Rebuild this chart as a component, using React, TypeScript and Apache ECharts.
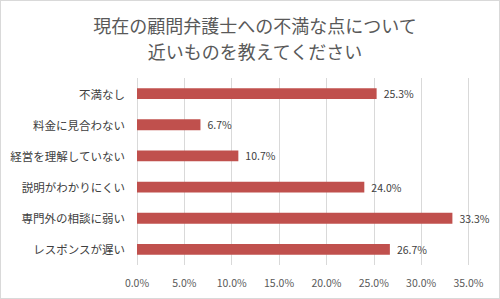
import React, { useEffect, useRef } from "react";
import * as echarts from "echarts";

const titleLines = ["現在の顧問弁護士への不満な点について", "近いものを教えてください"];
const categories = [
  "不満なし",
  "料金に見合わない",
  "経営を理解していない",
  "説明がわかりにくい",
  "専門外の相談に弱い",
  "レスポンスが遅い",
];
const values = [25.3, 6.7, 10.7, 24.0, 33.3, 26.7];
const axisMax = 35;
const axisInterval = 5;

const FONT = "'Noto Sans CJK JP', 'Noto Sans', sans-serif";

export default function App() {
  const ref = useRef<HTMLDivElement>(null);
  useEffect(() => {
    if (!ref.current) return;
    const chart = echarts.init(ref.current, null, { renderer: "svg" });
    const titleTops = [8.5, 34.5];
    chart.setOption({
      animation: false,
      backgroundColor: "#ffffff",
      textStyle: { fontFamily: FONT },
      title: titleLines.map((t, i) => ({
        text: t,
        left: 249,
        top: titleTops[i],
        textAlign: "center",
        textStyle: {
          fontFamily: FONT,
          fontSize: 18,
          fontWeight: "normal",
          color: "#595959",
          lineHeight: 20,
        },
      })),
      grid: { left: 136, right: 30.5, top: 77, bottom: 33 },
      xAxis: {
        type: "value",
        min: 0,
        max: axisMax,
        interval: axisInterval,
        axisLine: { show: false },
        axisTick: { show: false },
        axisLabel: {
          fontFamily: FONT,
          fontSize: 10.5,
          color: "#595959",
          margin: 12,
          formatter: (v: number) => v.toFixed(1) + "%",
        },
        splitLine: { show: true, lineStyle: { color: "#d9d9d9", width: 1 } },
      },
      yAxis: {
        type: "category",
        data: categories,
        inverse: true,
        axisLine: { show: false },
        axisTick: { show: false },
        axisLabel: {
          fontFamily: FONT,
          fontSize: 11.5,
          color: "#404040",
          margin: 12,
        },
      },
      series: [
        {
          type: "bar",
          data: values,
          barWidth: "35%",
          itemStyle: { color: "#C0504D" },
          label: {
            show: true,
            position: "right",
            distance: 7,
            fontFamily: FONT,
            fontSize: 10.5,
            color: "#404040",
            formatter: (p: any) => Number(p.value).toFixed(1) + "%",
          },
        },
      ],
    });
    return () => chart.dispose();
  }, []);
  return (
    <div
      style={{
        position: "fixed",
        left: 0,
        top: 0,
        width: 500,
        height: 299,
        boxSizing: "border-box",
        border: "1px solid #d9d9d9",
        background: "#fff",
      }}
    >
      <div ref={ref} style={{ width: 498, height: 297 }} />
    </div>
  );
}
